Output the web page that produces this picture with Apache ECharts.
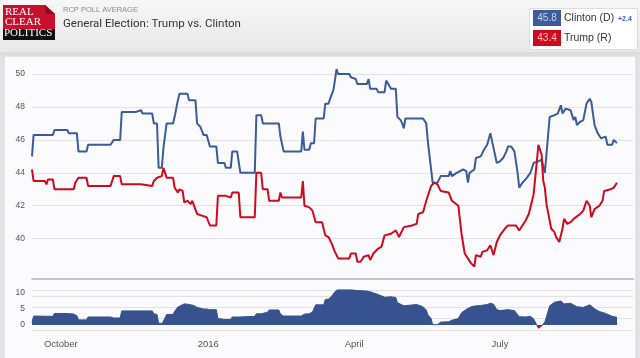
<!DOCTYPE html>
<html><head><meta charset="utf-8">
<script src="https://cdn.jsdelivr.net/npm/echarts@6/dist/echarts.min.js"></script>
<style>html,body{margin:0;padding:0;background:#e3e3e3}#c{width:640px;height:358px}</style>
</head><body><div id="c"></div>
<script>
const clintonDates = ['2015-09-13','2015-09-14','2015-09-26','2015-09-27','2015-10-05','2015-10-06','2015-10-11','2015-10-12','2015-10-17','2015-10-18','2015-11-01','2015-11-03','2015-11-07','2015-11-08','2015-11-17','2015-11-18','2015-11-20','2015-11-21','2015-11-27','2015-11-28','2015-11-30','2015-12-01','2015-12-03','2015-12-04','2015-12-06','2015-12-10','2015-12-11','2015-12-13','2015-12-14','2015-12-19','2015-12-20','2015-12-24','2015-12-25','2015-12-27','2015-12-29','2015-12-31','2016-01-02','2016-01-06','2016-01-07','2016-01-11','2016-01-12','2016-01-15','2016-01-16','2016-01-19','2016-01-21','2016-01-30','2016-01-31','2016-02-03','2016-02-04','2016-02-14','2016-02-15','2016-02-17','2016-02-28','2016-02-29','2016-03-01','2016-03-04','2016-03-05','2016-03-07','2016-03-08','2016-03-13','2016-03-14','2016-03-16','2016-03-17','2016-03-19','2016-03-20','2016-03-21','2016-03-22','2016-03-29','2016-03-30','2016-04-02','2016-04-03','2016-04-09','2016-04-10','2016-04-11','2016-04-15','2016-04-16','2016-04-20','2016-04-21','2016-04-22','2016-04-24','2016-04-27','2016-04-28','2016-04-30','2016-05-01','2016-05-02','2016-05-03','2016-05-14','2016-05-16','2016-05-17','2016-05-18','2016-05-20','2016-05-23','2016-05-25','2016-05-30','2016-05-31','2016-06-01','2016-06-04','2016-06-08','2016-06-10','2016-06-11','2016-06-12','2016-06-15','2016-06-16','2016-06-19','2016-06-21','2016-06-23','2016-06-25','2016-06-27','2016-06-29','2016-07-01','2016-07-03','2016-07-05','2016-07-06','2016-07-08','2016-07-10','2016-07-12','2016-07-13','2016-07-15','2016-07-17','2016-07-20','2016-07-22','2016-07-25','2016-07-27','2016-07-29','2016-08-01','2016-08-04','2016-08-06','2016-08-08','2016-08-09','2016-08-11','2016-08-14','2016-08-16','2016-08-17','2016-08-18','2016-08-20','2016-08-22','2016-08-24','2016-08-26','2016-08-27','2016-08-29','2016-08-30','2016-08-31','2016-09-02','2016-09-03','2016-09-05','2016-09-06','2016-09-09','2016-09-10','2016-09-12'];
const clintonValues = [45.0,46.3,46.3,46.6,46.6,46.4,46.4,45.3,45.3,45.7,45.7,46.0,46.0,47.7,47.7,47.8,47.8,47.6,47.6,47.0,47.0,44.3,44.3,45.5,47.0,47.0,47.4,48.4,48.8,48.8,48.4,48.4,47.0,46.8,46.3,46.3,45.6,45.6,44.6,44.6,44.3,44.3,45.3,45.3,44.0,44.0,47.5,47.5,47.0,47.0,46.2,45.3,45.3,46.5,45.4,45.4,45.8,45.8,47.3,47.3,48.2,48.2,48.5,49.0,49.6,50.3,50.0,50.0,49.8,49.7,49.4,49.4,49.7,49.1,49.1,48.9,48.9,49.6,49.6,49.1,49.1,47.4,47.2,47.0,46.7,47.3,47.3,47.0,45.9,45.9,43.4,43.4,43.8,43.8,44.1,43.8,44.0,44.2,44.1,43.4,44.0,44.2,44.9,45.0,45.4,45.7,46.4,45.5,44.6,44.7,44.9,45.3,45.6,45.6,45.3,44.0,43.1,43.4,43.6,44.0,44.6,44.7,44.8,44.0,47.4,47.5,47.6,48.1,47.6,47.9,47.8,47.2,47.4,46.9,47.1,47.2,48.2,48.5,48.3,46.9,46.8,46.4,46.1,46.0,46.2,45.7,45.7,46.0,45.8];

const trumpDates = ['2015-09-13','2015-09-14','2015-09-21','2015-09-22','2015-09-23','2015-09-26','2015-09-27','2015-10-09','2015-10-10','2015-10-12','2015-10-17','2015-10-18','2015-11-01','2015-11-03','2015-11-07','2015-11-08','2015-11-20','2015-11-21','2015-11-27','2015-11-28','2015-11-30','2015-12-03','2015-12-04','2015-12-06','2015-12-10','2015-12-11','2015-12-13','2015-12-14','2015-12-16','2015-12-17','2015-12-19','2015-12-21','2015-12-22','2015-12-23','2015-12-25','2015-12-28','2015-12-29','2015-12-31','2016-01-02','2016-01-06','2016-01-07','2016-01-12','2016-01-13','2016-01-15','2016-01-16','2016-01-20','2016-01-21','2016-01-30','2016-01-31','2016-02-03','2016-02-04','2016-02-07','2016-02-08','2016-02-14','2016-02-15','2016-02-16','2016-02-28','2016-02-29','2016-03-01','2016-03-04','2016-03-06','2016-03-08','2016-03-12','2016-03-14','2016-03-16','2016-03-18','2016-03-20','2016-03-22','2016-03-29','2016-03-30','2016-04-02','2016-04-03','2016-04-05','2016-04-07','2016-04-10','2016-04-11','2016-04-13','2016-04-16','2016-04-18','2016-04-20','2016-04-24','2016-04-27','2016-04-29','2016-05-02','2016-05-07','2016-05-10','2016-05-11','2016-05-14','2016-05-16','2016-05-19','2016-05-21','2016-05-23','2016-05-25','2016-05-30','2016-06-01','2016-06-05','2016-06-07','2016-06-09','2016-06-10','2016-06-13','2016-06-15','2016-06-16','2016-06-19','2016-06-20','2016-06-23','2016-06-25','2016-06-27','2016-06-29','2016-07-01','2016-07-04','2016-07-06','2016-07-11','2016-07-13','2016-07-14','2016-07-17','2016-07-19','2016-07-22','2016-07-24','2016-07-25','2016-07-26','2016-07-27','2016-07-28','2016-07-29','2016-07-30','2016-08-02','2016-08-04','2016-08-05','2016-08-07','2016-08-09','2016-08-10','2016-08-12','2016-08-14','2016-08-16','2016-08-20','2016-08-22','2016-08-24','2016-08-26','2016-08-27','2016-08-29','2016-09-01','2016-09-03','2016-09-04','2016-09-08','2016-09-10','2016-09-12'];
const trumpValues = [44.2,43.5,43.5,43.3,43.6,43.6,43.0,43.0,43.4,43.7,43.7,43.2,43.2,43.8,43.8,43.3,43.3,43.2,43.2,43.5,43.7,43.8,44.3,43.7,43.7,43.1,42.8,43.0,42.9,42.2,42.3,42.1,42.3,42.3,41.5,41.4,41.3,41.3,40.8,40.8,42.6,42.6,42.5,42.5,42.8,42.8,41.3,41.3,44.0,44.0,43.0,43.0,42.3,42.3,42.8,42.5,42.5,43.5,42.0,41.9,41.7,41.0,41.0,40.2,40.1,39.7,39.2,38.8,38.8,39.1,39.1,38.6,38.6,38.9,39.0,38.7,39.1,39.4,39.5,40.2,40.3,40.5,40.1,40.7,40.8,40.9,41.5,41.6,42.3,43.2,43.4,43.3,42.9,42.8,42.3,42.0,40.3,39.1,39.2,38.5,38.3,39.0,38.9,39.2,39.3,39.6,39.0,39.8,40.2,40.6,40.8,40.8,40.5,40.6,41.1,41.5,42.7,44.7,45.7,45.7,45.1,43.5,43.1,42.1,40.6,40.4,40.1,39.8,40.6,41.2,40.9,41.0,41.2,41.5,41.7,42.3,42.0,41.3,41.8,42.0,42.3,42.9,43.0,43.1,43.4];

const spreadDates = ['2015-09-13','2015-09-14','2015-09-26','2015-09-27','2015-10-05','2015-10-06','2015-10-09','2015-10-11','2015-10-12','2015-10-17','2015-10-18','2015-11-01','2015-11-03','2015-11-07','2015-11-08','2015-11-27','2015-11-28','2015-11-30','2015-12-01','2015-12-03','2015-12-04','2015-12-06','2015-12-10','2015-12-11','2015-12-13','2015-12-14','2015-12-17','2015-12-19','2015-12-20','2015-12-23','2015-12-25','2015-12-29','2015-12-31','2016-01-02','2016-01-06','2016-01-07','2016-01-12','2016-01-15','2016-01-16','2016-01-20','2016-01-21','2016-01-30','2016-01-31','2016-02-03','2016-02-04','2016-02-07','2016-02-08','2016-02-14','2016-02-15','2016-02-17','2016-02-28','2016-03-01','2016-03-04','2016-03-06','2016-03-08','2016-03-13','2016-03-14','2016-03-16','2016-03-18','2016-03-20','2016-03-22','2016-03-29','2016-03-30','2016-04-03','2016-04-09','2016-04-11','2016-04-16','2016-04-20','2016-04-24','2016-04-27','2016-04-28','2016-05-02','2016-05-03','2016-05-10','2016-05-11','2016-05-14','2016-05-16','2016-05-17','2016-05-19','2016-05-20','2016-05-21','2016-05-23','2016-05-25','2016-05-30','2016-06-01','2016-06-05','2016-06-07','2016-06-10','2016-06-13','2016-06-15','2016-06-19','2016-06-23','2016-06-25','2016-06-27','2016-06-29','2016-07-01','2016-07-06','2016-07-10','2016-07-13','2016-07-17','2016-07-20','2016-07-22','2016-07-24','2016-07-25','2016-07-27','2016-07-29','2016-08-01','2016-08-04','2016-08-08','2016-08-10','2016-08-14','2016-08-18','2016-08-22','2016-08-26','2016-08-29','2016-09-01','2016-09-05','2016-09-09','2016-09-12'];
const spreadValues = [0.8,2.8,2.7,3.6,3.6,3.4,3.4,2.9,1.6,1.6,2.5,2.5,2.2,2.2,4.4,4.4,3.5,3.3,0.6,0.5,1.2,3.3,3.3,4.3,5.6,5.8,6.6,6.5,6.1,6.1,5.5,5.0,5.0,4.8,4.8,2.0,1.7,1.8,2.5,2.5,2.7,2.7,3.5,3.5,4.0,4.0,4.7,4.7,3.4,2.8,2.8,3.4,3.5,4.1,6.3,6.3,8.0,8.1,9.0,10.4,11.2,11.2,10.7,10.8,10.6,10.4,9.5,8.7,8.8,8.6,7.0,6.0,6.5,6.4,5.8,5.7,4.7,3.2,2.0,0.1,-0.1,0.1,0.9,1.0,1.5,2.0,3.8,4.9,5.7,5.9,6.1,6.4,6.8,6.5,4.8,4.5,4.8,4.5,2.6,2.5,2.7,1.9,0.0,-1.0,-0.3,0.9,6.0,7.1,7.5,6.6,6.8,5.7,5.5,6.3,5.1,4.2,3.6,2.7,2.4];

const xTickDates = ['2015-10-01','2016-01-01','2016-04-01','2016-07-01'];
const xTickLabels = ['October','2016','April','July'];
const yTicks = [40,42,44,46,48,50];
const spreadTicks = [0,5,10];
const xStart = '2015-09-13', xEnd = '2016-09-22';

const BLUE = '#3b5b9a', RED = '#d0091e', AREA = '#36528f';
function ts(s){const p=s.split('-');return Date.UTC(+p[0],+p[1]-1,+p[2]);}
function pairs(ds,vs){return ds.map((d,i)=>[ts(d),vs[i]]);}
const xTickTs = xTickDates.map(ts);

const lastC = clintonValues[clintonValues.length-1];
const lastT = trumpValues[trumpValues.length-1];
const lead = (lastC-lastT).toFixed(1);

const SP_MIN = -1.5625, SP_MAX = 10.9375;

const chart = echarts.init(document.getElementById('c'), null, {renderer:'canvas'});
const fontSans = '"Liberation Sans", Arial, sans-serif';
const option = {
  animation:false,
  backgroundColor:'#e3e3e3',
  graphic:[
    {type:'rect', z:-10, silent:true, shape:{x:0,y:0,width:640,height:52},
      style:{fill:new echarts.graphic.LinearGradient(0,0,0,1,[{offset:0,color:'#f7f7f7'},{offset:1,color:'#e8e8e8'}])}},
    {type:'rect', z:-10, silent:true, shape:{x:0,y:52,width:640,height:3}, style:{fill:'#dcdcdc'}},
    {type:'rect', z:-10, silent:true, shape:{x:4,y:56,width:632,height:304}, style:{fill:'#fbfbfd', stroke:'#d6d6d6', lineWidth:1}},
    {type:'rect', silent:true, shape:{x:3,y:5,width:52,height:24}, style:{fill:'#c8102e'}},
    {type:'polygon', silent:true, shape:{points:[[45,5],[55,5],[55,14]]}, style:{fill:'#f2f2f2'}},
    {type:'polygon', silent:true, shape:{points:[[45,5],[55,14],[46,14]]}, style:{fill:'#8c0b1e'}},
    {type:'rect', silent:true, shape:{x:3,y:29,width:52,height:11}, style:{fill:'#111111'}},
    {type:'text', silent:true, x:5, y:18, style:{text:'REAL', fill:'#ffffff', font:'11px "Liberation Serif", "DejaVu Serif", serif', verticalAlign:'bottom'}},
    {type:'text', silent:true, x:5, y:27.5, style:{text:'CLEAR', fill:'#ffffff', font:'11px "Liberation Serif", "DejaVu Serif", serif', verticalAlign:'bottom'}},
    {type:'text', silent:true, x:4, y:39, style:{text:'POLITICS', fill:'#ffffff', font:'11px "Liberation Serif", "DejaVu Serif", serif', verticalAlign:'bottom'}},
    {type:'text', silent:true, x:63, y:9.5, style:{text:'RCP POLL AVERAGE', fill:'#8a8a8a', font:'7.5px '+fontSans, verticalAlign:'middle'}},
    {type:'text', silent:true, x:63, y:24, style:{text:'General Election: Trump vs. Clinton', fill:'#333333', font:'11.5px Roboto, '+fontSans, verticalAlign:'middle'}},
    {type:'rect', silent:true, shape:{x:529.5,y:8.5,width:108,height:41}, style:{fill:'#ffffff', stroke:'#dddddd', lineWidth:1}},
    {type:'rect', silent:true, shape:{x:533,y:10,width:28,height:16}, style:{fill:BLUE}},
    {type:'text', silent:true, x:547, y:18.5, style:{text:lastC.toFixed(1), fill:'#c9d3ea', font:'10px '+fontSans, align:'center', verticalAlign:'middle'}},
    {type:'text', silent:true, x:564, y:18, style:{text:'Clinton (D)', fill:'#333333', font:'10.5px '+fontSans, verticalAlign:'middle'}},
    {type:'text', silent:true, x:618, y:19, style:{text:'+'+lead, fill:BLUE, font:'bold 7px '+fontSans, verticalAlign:'middle'}},
    {type:'rect', silent:true, shape:{x:533,y:30,width:28,height:16}, style:{fill:RED}},
    {type:'text', silent:true, x:547, y:38.5, style:{text:lastT.toFixed(1), fill:'#f5c3c6', font:'10px '+fontSans, align:'center', verticalAlign:'middle'}},
    {type:'text', silent:true, x:564, y:38, style:{text:'Trump (R)', fill:'#333333', font:'10.5px '+fontSans, verticalAlign:'middle'}}
  ],
  grid:[
    {left:32, right:7, top:62, height:217},
    {left:32, right:7, top:290, height:40}
  ],
  xAxis:[
    {gridIndex:0, type:'value', min:ts(xStart), max:ts(xEnd),
      axisLine:{show:true, onZero:false, lineStyle:{color:'#c6c6c6', width:2}}, axisTick:{show:false}, axisLabel:{show:false}, splitLine:{show:false}},
    {gridIndex:1, type:'value', min:ts(xStart), max:ts(xEnd),
      axisLine:{show:false, onZero:false}, axisTick:{show:false}, splitLine:{show:false},
      axisLabel:{customValues:xTickTs, color:'#555', fontSize:9.5, fontFamily:fontSans, margin:9,
        formatter:function(v){const i=xTickTs.indexOf(v);return i>=0?xTickLabels[i]:'';}}}
  ],
  yAxis:[
    {gridIndex:0, type:'value', min:37.55, max:50.73,
      axisLine:{show:false}, axisTick:{show:false, customValues:yTicks},
      axisLabel:{customValues:yTicks, color:'#555', fontSize:8.5, fontFamily:fontSans, margin:7},
      splitLine:{show:true, lineStyle:{color:'#e2e2e2', width:1}}},
    {gridIndex:1, type:'value', min:SP_MIN, max:SP_MAX,
      axisLine:{show:false}, axisTick:{show:false, customValues:spreadTicks},
      axisLabel:{customValues:spreadTicks, color:'#555', fontSize:8.5, fontFamily:fontSans, margin:7},
      splitLine:{show:false}},
    {gridIndex:1, type:'value', min:0, max:3.54, interval:1,
      axisLine:{show:false}, axisTick:{show:false}, axisLabel:{show:false},
      splitLine:{show:true, lineStyle:{color:'#e2e2e2', width:1}}}
  ],
  visualMap:{type:'piecewise', show:false, seriesIndex:2, dimension:1,
    pieces:[{gte:SP_MIN, lt:0, color:RED},{gte:0, lte:SP_MAX, color:AREA}],
    outOfRange:{color:AREA}},
  series:[
    {name:'Clinton (D)', type:'line', xAxisIndex:0, yAxisIndex:0, data:pairs(clintonDates,clintonValues),
      showSymbol:false, lineStyle:{color:BLUE, width:2}, itemStyle:{color:BLUE}, z:3},
    {name:'Trump (R)', type:'line', xAxisIndex:0, yAxisIndex:0, data:pairs(trumpDates,trumpValues),
      showSymbol:false, lineStyle:{color:RED, width:2}, itemStyle:{color:RED}, z:4},
    {name:'Spread', type:'line', xAxisIndex:1, yAxisIndex:1, data:pairs(spreadDates,spreadValues),
      showSymbol:false, lineStyle:{width:1}, areaStyle:{opacity:1}, z:3}
  ]
};
chart.setOption(option);
</script></body></html>
